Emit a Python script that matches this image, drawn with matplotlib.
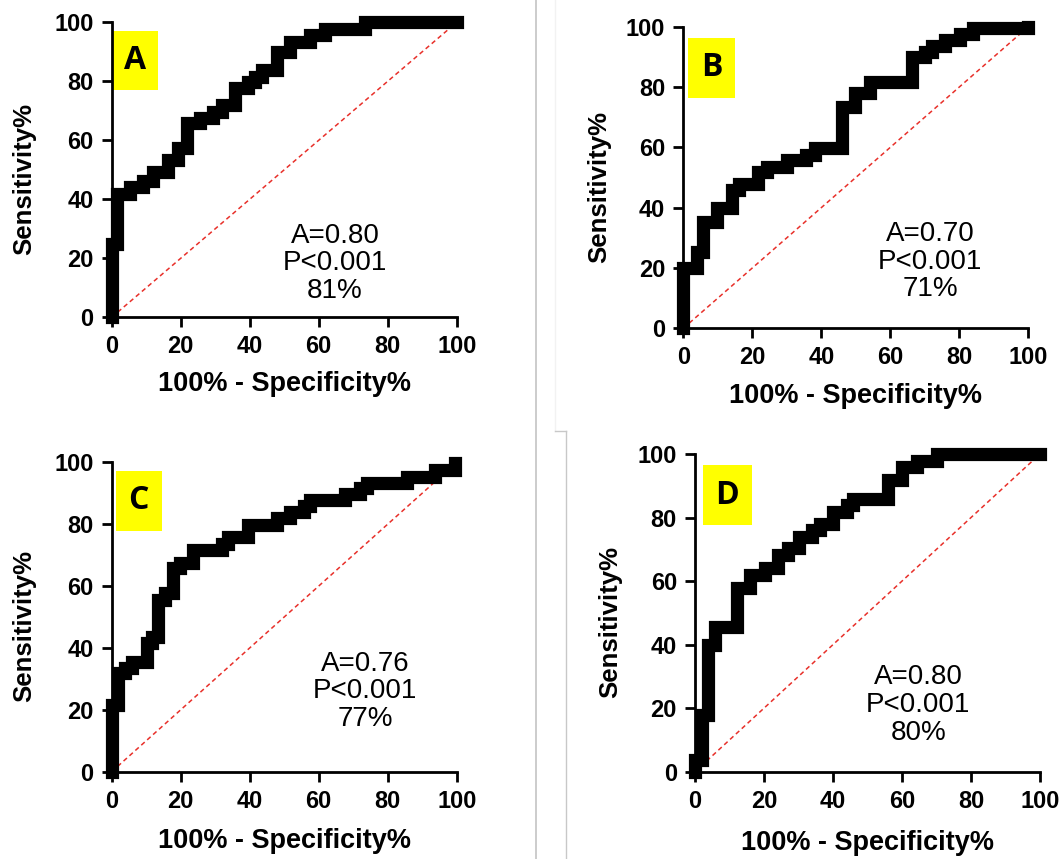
import matplotlib
matplotlib.use("Agg")
import matplotlib.pyplot as plt
from matplotlib.lines import Line2D
from matplotlib.patches import Rectangle

plt.rcParams['font.family'] = ['Liberation Sans', 'DejaVu Sans']

# ROC step points: 100% - specificity (x) and sensitivity (y), in percent
fpr_a = [0, 0, 1.6, 5.3, 9.2, 12.1, 16.4, 19.3, 21.7, 25.6, 29.5, 31.9, 35.7, 39.6, 41.5, 43.5, 47.8, 51.7, 57.5, 61.8, 73.4, 100]
tpr_a = [0, 25, 41.8, 44.1, 46.3, 49.4, 53.3, 57.3, 65.8, 67.5, 69.7, 72, 77.6, 79.9, 81.6, 83.8, 90, 93.4, 95.7, 97.7, 100, 100]

fpr_b = [0, 0, 3.9, 5.8, 9.7, 14, 16, 21.7, 24.2, 30, 35.7, 38.2, 45.9, 49.8, 54.1, 66.2, 70, 72, 75.8, 80.2, 84, 100]
tpr_b = [0, 19.9, 25.4, 35.4, 39.8, 45.9, 47.8, 51.9, 53.6, 55.8, 57.5, 59.7, 73.5, 77.9, 81.8, 90, 91.7, 93.7, 95.6, 97.6, 99.5, 100]

fpr_c = [0, 0, 1.9, 3.9, 5.8, 10.1, 11.6, 13.5, 15.5, 17.9, 19.8, 23.7, 31.9, 33.8, 39.6, 47.8, 51.7, 55.6, 57.5, 67.6, 72, 73.9, 85.5, 93.7, 99.5]
tpr_c = [0, 21.6, 31.8, 33.4, 35.6, 41.5, 43.6, 55.5, 57.6, 65.7, 67.6, 71.7, 73.6, 76, 79.7, 81.9, 84, 85.9, 87.8, 89.8, 91.6, 93.4, 95.4, 97.5, 99.7]

fpr_d = [0, 0, 1.9, 3.9, 5.8, 12.1, 15.9, 20.3, 24.2, 27, 30, 33.8, 36.2, 40.1, 44, 45.9, 56, 59.9, 64.3, 70, 100]
tpr_d = [0, 3.7, 17.8, 39.9, 45.6, 57.7, 61.9, 64, 68.2, 70.5, 74, 76.1, 78, 81.8, 83.9, 85.7, 91.8, 96, 97.9, 100, 100]

letters = ["A", "B", "C", "D"]
auc_values = ["0.80", "0.70", "0.76", "0.80"]
p_values = ["P<0.001", "P<0.001", "P<0.001", "P<0.001"]
percents = ["81%", "71%", "77%", "80%"]
ticks = [0, 20, 40, 60, 80, 100]

W, H = 1064, 859
fig = plt.figure(figsize=(W / 100, H / 100), dpi=100)


def px_axes(left, top, right, bottom):
    # axes placed by pixel edges (origin at top-left)
    return fig.add_axes([left / W, 1 - bottom / H, (right - left) / W, (bottom - top) / H])


axes = [
    px_axes(111.7, 22.3, 456.7, 317.3),
    px_axes(683.3, 26.7, 1028.3, 328.3),
    px_axes(111.7, 462.3, 456.7, 771.7),
    px_axes(695, 454, 1040, 771.7),
]
curves = [(fpr_a, tpr_a), (fpr_b, tpr_b), (fpr_c, tpr_c), (fpr_d, tpr_d)]
text_pos = [(64.7, 18.3), (71.5, 22.1), (73.4, 26), (64.7, 21)]
boxes = [(0, 77, 13.5, 20.2), (1.4, 76.4, 13.6, 20), (1.2, 77.9, 13.3, 19.2), (2.2, 77.6, 14.2, 18.8)]
ylabel_x = [-0.255, -0.245, -0.255, -0.245]

for i, ax in enumerate(axes):
    fpr, tpr = curves[i]
    ax.set_xlim(0, 100)
    ax.set_ylim(0, 100)

    # chance line
    ax.plot([0, 100], [0, 100], color='#e8302a', lw=1.1, ls=(0, (3, 2.2)), zorder=2)
    # ROC curve
    ax.plot(fpr, tpr, drawstyle='steps-post', color='black', lw=9.5,
            solid_capstyle='projecting', solid_joinstyle='miter', clip_on=False, zorder=4)

    bx, by, bw, bh = boxes[i]
    ax.add_patch(Rectangle((bx, by), bw, bh, facecolor='#ffff00', edgecolor='none', zorder=1))
    ax.text(bx + bw / 2, by + bh / 2, letters[i], ha='center', va='center',
            fontsize=23, fontweight='bold', family=['Open Sans', 'DejaVu Sans'], zorder=5)

    tx, ty = text_pos[i]
    ax.text(tx, ty, "A=" + auc_values[i] + "\n" + p_values[i] + "\n" + percents[i],
            ha='center', va='center', multialignment='center', fontsize=20, linespacing=1.08)

    for side in ['top', 'right']:
        ax.spines[side].set_visible(False)
    for side in ['left', 'bottom']:
        ax.spines[side].set_linewidth(2)
    ax.set_xticks(ticks)
    ax.set_yticks(ticks)
    ax.tick_params(direction='out', length=7, width=2, labelsize=17, pad=6)
    for lab in ax.get_xticklabels() + ax.get_yticklabels():
        lab.set_fontweight('bold')

    ax.set_xlabel("100% - Specificity%", fontsize=19.5, fontweight='bold', va='center')
    ax.xaxis.set_label_coords(0.5, -0.225)
    ax.set_ylabel("Sensitivity%", fontsize=18.5, fontweight='bold', va='center')
    ax.yaxis.set_label_coords(ylabel_x[i], 0.47)

# thin grey panel dividers
fig.add_artist(Line2D([536 / W, 536 / W], [0, 1], color='#c4c4c4', lw=1.2))
fig.add_artist(Line2D([555 / W, 555 / W], [1, 1 - 431 / H], color='#f2f2f2', lw=1))
fig.add_artist(Line2D([555 / W, 566 / W], [1 - 431 / H, 1 - 431 / H], color='#c8c8c8', lw=1))
fig.add_artist(Line2D([566 / W, 566 / W], [1 - 431 / H, 0], color='#c8c8c8', lw=1))

plt.savefig("out.png", dpi=100)
plt.close()
